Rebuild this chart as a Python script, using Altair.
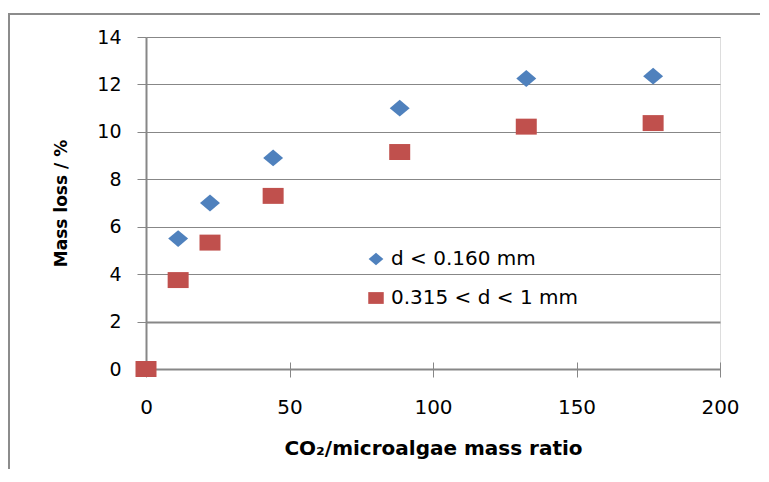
import altair as alt
import pandas as pd

# ---- data ----
series_names = ["d < 0.160 mm", "0.315 < d < 1 mm"]
fine_x = [11.2, 22.3, 44.3, 88.4, 132.5, 176.7]
fine_y = [5.5, 7.0, 8.9, 11.0, 12.25, 12.35]
coarse_x = [0, 11.2, 22.3, 44.3, 88.4, 132.5, 176.7]
coarse_y = [0.0, 3.75, 5.33, 7.3, 9.15, 10.22, 10.37]
x_ticks = [0, 50, 100, 150, 200]
y_ticks = [0, 2, 4, 6, 8, 10, 12, 14]
colors = ["#4F81BD", "#C0504D"]

rows = [{"ratio": x, "loss": y, "series": series_names[0]} for x, y in zip(fine_x, fine_y)]
rows += [{"ratio": x, "loss": y, "series": series_names[1]} for x, y in zip(coarse_x, coarse_y)]
df = pd.DataFrame(rows)
frame_df = pd.DataFrame({"k": [0]})

W, H = 574, 332
GRAY = "#878787"
FONT = "DejaVu Sans"

diamond = "M0,-0.8L0.95,0L0,0.8L-0.95,0Z"
rect = "M-1,-0.76L1,-0.76L1,0.76L-1,0.76Z"

xscale = alt.Scale(domain=[0, 200], nice=False, zero=False)
yscale = alt.Scale(domain=[0, 14], nice=False)

legend_cfg = dict(title=None, orient="none", legendX=220, legendY=212,
                  labelFont=FONT, labelFontSize=20, labelColor="#000", labelLimit=400,
                  symbolSize=240, labelOffset=5, rowPadding=19, padding=0,
                  symbolStrokeWidth=0)

points = alt.Chart(df).mark_point(filled=True, opacity=1, size=441, strokeWidth=0).encode(
    x=alt.X("ratio:Q", scale=xscale, axis=alt.Axis(
        orient="bottom", values=x_ticks, grid=False, offset=-7, domain=False,
        tickColor=GRAY, tickSize=15, tickWidth=1, labelFlush=False,
        labelFont=FONT, labelFontSize=20, labelColor="#000", labelPadding=20,
        title="CO₂/microalgae mass ratio", titleFont=FONT, titleFontSize=20,
        titleFontWeight="bold", titleColor="#000", titleX=W / 2, titleY=92.5,
        titleBaseline="alphabetic", titleAlign="center")),
    y=alt.Y("loss:Q", scale=yscale, axis=alt.Axis(
        orient="left", values=y_ticks, grid=True, gridColor=GRAY,
        gridWidth={"condition": {"test": "datum.value === 2 || datum.value === 0", "value": 1.8}, "value": 1},
        domainColor=GRAY, domainWidth=2, tickColor=GRAY, tickSize=9, tickWidth=1,
        labelFont=FONT, labelFontSize=19, labelColor="#000", labelPadding=16,
        title="Mass loss / %", titleFont=FONT, titleFontSize=17, titleFontWeight="bold",
        titleColor="#000", titleX=-80, titleY=H / 2, titleAngle=270,
        titleBaseline="alphabetic", titleAlign="center")),
    color=alt.Color("series:N", scale=alt.Scale(domain=series_names, range=colors),
                    legend=alt.Legend(**legend_cfg)),
    shape=alt.Shape("series:N", scale=alt.Scale(domain=series_names, range=[diamond, rect]),
                    legend=alt.Legend(**legend_cfg)),
    order=alt.Order("series:N", sort="descending"),
)

# outer chart-area frame (only top and left edges visible)
frame_left = alt.Chart(frame_df).mark_rule(color="#8c8c8c", strokeWidth=2).encode(
    x=alt.value(-137), y=alt.value(-24), y2=alt.value(460))
frame_top = alt.Chart(frame_df).mark_rule(color="#8c8c8c", strokeWidth=2).encode(
    x=alt.value(-138), x2=alt.value(640), y=alt.value(-23))

chart = alt.layer(frame_left, frame_top, points).properties(
    width=W, height=H,
    autosize=alt.AutoSizeParams(type="none"),
    padding={"left": 138, "top": 29, "right": 40, "bottom": 100},
).configure_view(stroke=None).configure(background="white")

chart.save("out.html", embed_options={"renderer": "svg", "actions": False})
